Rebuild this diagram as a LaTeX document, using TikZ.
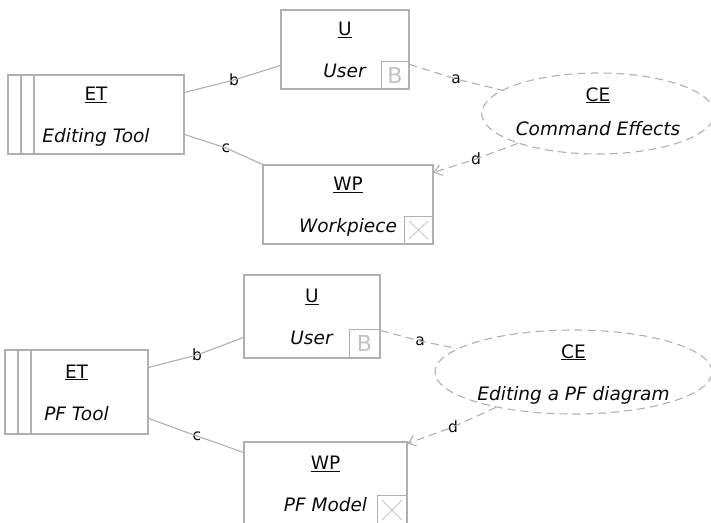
\documentclass[tikz,border=0pt]{standalone}
\usepackage{fontspec}
\setmainfont{DejaVu Sans}
\usetikzlibrary{arrows.meta,calc,shapes.geometric}
\definecolor{ink}{HTML}{0A0A0A}
\definecolor{edge}{HTML}{B0B0B0}
\definecolor{glyph}{HTML}{C2C2C2}

\tikzset{
  pfbox/.style={draw=edge,line width=1.1pt,align=center,inner sep=0pt,
    text=ink,font=\fontsize{18.5}{42}\selectfont,
    text height=56pt,text depth=0pt},
  machine/.style={pfbox,path picture={
      \foreach \dx in {13pt,26pt}
        \draw[edge,line width=1.1pt]
          ([xshift=\dx]path picture bounding box.north west)
          -- ([xshift=\dx]path picture bounding box.south west);}},
  effect/.style={pfbox,ellipse,dash pattern=on 8pt off 5pt},
  biddable/.style={draw=edge,line width=.9pt,inner sep=0pt,text=glyph,
    font=\fontsize{22}{22}\selectfont},
  lexical/.style={draw=edge,line width=.9pt,inner sep=0pt,path picture={
      \draw[draw=glyph,line width=.8pt]
        ([shift={(5pt,-5pt)}]path picture bounding box.north west)
        -- ([shift={(-5pt,5pt)}]path picture bounding box.south east);
      \draw[draw=glyph,line width=.8pt]
        ([shift={(-5pt,-5pt)}]path picture bounding box.north east)
        -- ([shift={(5pt,5pt)}]path picture bounding box.south west);}},
  lbl/.style={inner sep=0pt,text=ink,font=\fontsize{15.5}{15.5}\selectfont},
  conn/.style={draw=edge,line width=1.1pt},
  dconn/.style={conn,dash pattern=on 8pt off 5pt}
}

\begin{document}
\begin{tikzpicture}[x=1pt,y=-1pt,>={Straight Barb[length=7pt,width=11pt]}]
  \useasboundingbox (0,0) rectangle (711,522);

  % upper diagram
  \node[machine,minimum width=176pt,minimum height=79pt] (ET) at (96,114.5)
    {\underline{ET}\\\textit{Editing Tool}};
  \node[pfbox,minimum width=128pt,minimum height=79pt] (U) at (345,49.5)
    {\underline{U}\\\textit{User}};
  \node[biddable,minimum width=28pt,minimum height=28pt] (UB) at (395,75) {B};
  \node[pfbox,minimum width=170pt,minimum height=79pt] (WP) at (348,204.5)
    {\underline{WP}\\\textit{Workpiece}};
  \node[lexical,minimum width=29pt,minimum height=28pt] (WPX) at (418.5,230) {};
  \node[effect,minimum width=230pt,minimum height=81pt,text height=48pt,
    text depth=5pt,font=\fontsize{18.5}{34}\selectfont] (CE) at (598,113.5)
    {\underline{CE}\\\textit{Command Effects}};

  \node[lbl] (la) at (456,79) {a};
  \node[lbl] (lb) at (234,80) {b};
  \node[lbl] (lc) at (226,148) {c};
  \node[lbl] (ld) at (476,159) {d};

  \draw[conn] ($(ET.north east)+(0,18)$) -- (lb.center)
    -- ($(U.north west)+(0,56)$);
  \draw[conn] ($(ET.north east)+(0,60)$) -- (lc.center) -- (WP.north west);
  \draw[dconn] ($(U.north east)+(0,55)$) -- (la.center) -- (CE);
  \draw[dconn,->] (CE) -- (ld.center) -- ($(WP.north east)+(0,8)$);

  % lower diagram
  \node[machine,minimum width=143pt,minimum height=84pt] (ET2) at (76.5,392)
    {\underline{ET}\\\textit{PF Tool}};
  \node[pfbox,minimum width=136pt,minimum height=83pt] (U2) at (312,316.5)
    {\underline{U}\\\textit{User}};
  \node[biddable,minimum width=31pt,minimum height=29pt] (UB2) at (364.5,343.5) {B};
  \node[pfbox,minimum width=163pt,minimum height=83pt] (WP2) at (325.5,483.5)
    {\underline{WP}\\\textit{PF Model}};
  \node[lexical,minimum width=30pt,minimum height=30pt] (WPX2) at (392,510) {};
  \node[effect,minimum width=277pt,minimum height=84pt] (CE2) at (573.5,372)
    {\underline{CE}\\\textit{Editing a PF diagram}};

  \node[lbl] (la2) at (420,341) {a};
  \node[lbl] (lb2) at (197,355) {b};
  \node[lbl] (lc2) at (197,436) {c};
  \node[lbl] (ld2) at (453,427) {d};

  \draw[conn] ($(ET2.north east)+(0,18)$) -- (lb2.center)
    -- ($(U2.north west)+(0,63)$);
  \draw[conn] ($(ET2.north east)+(0,69)$) -- (lc2.center)
    -- ($(WP2.north west)+(0,11)$);
  \draw[dconn] ($(U2.north east)+(0,56)$) -- (la2.center) -- (CE2);
  \draw[dconn,->] (CE2) -- (ld2.center) -- ($(WP2.north east)+(0,2)$);
\end{tikzpicture}
\end{document}
